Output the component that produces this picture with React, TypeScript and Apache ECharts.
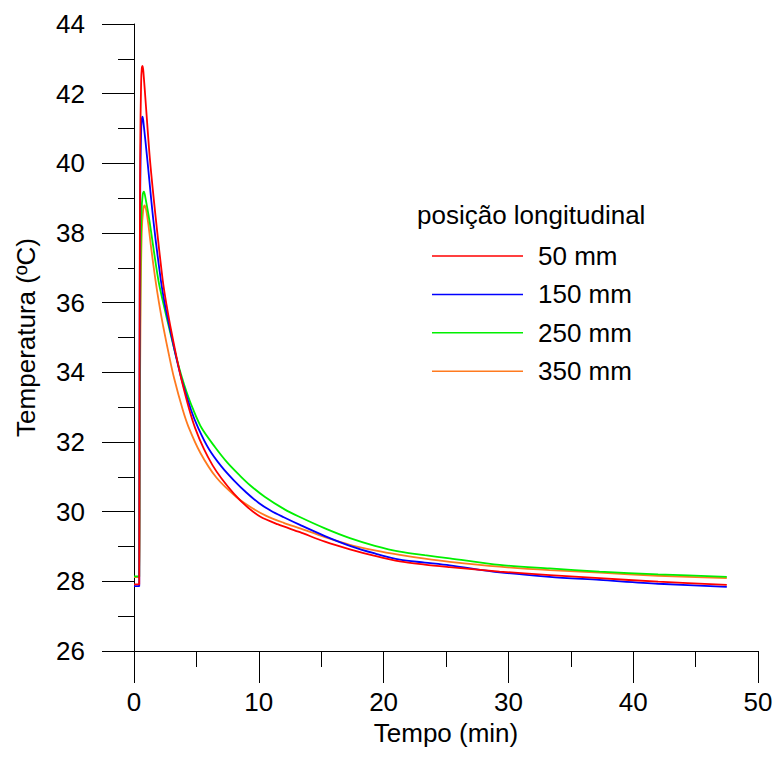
import { useEffect, useRef } from 'react';
import * as echarts from 'echarts';

const seriesNames = ['50 mm', '150 mm', '250 mm', '350 mm'];
const seriesColors = ['#ff0000', '#0000ff', '#00f000', '#ff7a1f'];
const legendTitle = 'posição longitudinal';
const xAxisName = 'Tempo (min)';
const yAxisName = 'Temperatura (ºC)';

const time50 = [0, 0.42, 0.44, 0.5, 0.57, 0.63, 0.69, 0.76, 0.96, 1.28, 1.76, 2.3, 2.6, 2.9, 3.4, 3.8, 4.4, 4.9, 5.6, 6.3, 7.0, 8.0, 9.0, 10.1, 11.5, 13.3, 15.3, 17.3, 19.3, 21.3, 23.3, 25.3, 29.3, 33.3, 37.3, 42, 47.5];
const temp50 = [27.91, 27.91, 34, 40.5, 42.3, 42.75, 42.8, 42.6, 41.63, 40.1, 38.37, 36.65, 35.95, 35.35, 34.45, 33.8, 32.97, 32.4, 31.8, 31.33, 30.96, 30.52, 30.16, 29.86, 29.64, 29.41, 29.14, 28.92, 28.73, 28.57, 28.48, 28.41, 28.28, 28.18, 28.09, 27.99, 27.9];

const time150 = [0, 0.42, 0.44, 0.5, 0.57, 0.63, 0.69, 0.78, 1.07, 1.55, 2.15, 2.5, 2.85, 3.4, 3.85, 4.57, 5.15, 6.0, 7.0, 8.0, 9.0, 10.0, 11.0, 12.0, 13.3, 15.3, 17.3, 19.3, 21.3, 23.3, 25.3, 29.3, 33.3, 37.3, 42, 47.5];
const temp150 = [27.86, 27.86, 33.5, 39.3, 40.9, 41.28, 41.34, 41.1, 40.1, 38.37, 36.65, 35.9, 35.3, 34.4, 33.75, 32.92, 32.4, 31.8, 31.3, 30.9, 30.55, 30.25, 30.02, 29.84, 29.62, 29.3, 29.02, 28.8, 28.62, 28.54, 28.46, 28.26, 28.13, 28.04, 27.93, 27.84];

const time250 = [0, 0.42, 0.45, 0.52, 0.6, 0.7, 0.8, 0.92, 1.23, 1.95, 2.5, 3.0, 3.4, 3.8, 4.2, 4.7, 5.42, 6.5, 7.5, 8.5, 9.3, 10.5, 12.0, 13.2, 15.3, 17.3, 19.3, 21.3, 23.3, 25.3, 29.3, 33.3, 37.3, 42, 47.5];
const temp250 = [28.14, 28.14, 32.5, 37, 38.6, 39.1, 39.19, 39.0, 38.37, 36.65, 35.75, 35.0, 34.42, 33.9, 33.45, 32.97, 32.4, 31.85, 31.4, 31.03, 30.76, 30.42, 30.08, 29.86, 29.52, 29.24, 29.02, 28.85, 28.75, 28.66, 28.47, 28.37, 28.28, 28.2, 28.13];

const time350 = [0, 0.42, 0.46, 0.53, 0.62, 0.73, 0.85, 0.98, 1.15, 1.4, 1.7, 2.0, 2.35, 2.83, 3.2, 3.9, 4.35, 5.3, 6.6, 8.2, 9.3, 10.6, 12, 13.3, 15.3, 17.3, 19.3, 21.3, 23.3, 25.3, 29.3, 33.3, 37.3, 42, 47.5];
const temp350 = [28.12, 28.12, 32, 36, 38.0, 38.65, 38.79, 38.65, 38.25, 37.5, 36.7, 36.0, 35.3, 34.45, 33.85, 32.93, 32.45, 31.7, 30.98, 30.42, 30.14, 29.88, 29.68, 29.52, 29.27, 29.05, 28.89, 28.76, 28.65, 28.56, 28.42, 28.32, 28.25, 28.16, 28.09];

const xTicks = { min: 0, max: 50, interval: 10 };
const yTicks = { min: 26, max: 44, interval: 2 };

const allTimes = [time50, time150, time250, time350];
const allTemps = [temp50, temp150, temp250, temp350];

const FONT = '"Liberation Sans", Arial, Helvetica, sans-serif';

export default function App() {
  const ref = useRef<HTMLDivElement>(null);
  useEffect(() => {
    if (!ref.current) return;
    const chart = echarts.init(ref.current, undefined, { renderer: 'svg' });
    const series = seriesNames.map((name, i) => ({
      name,
      type: 'line',
      data: allTimes[i].map((t, j) => [t, allTemps[i][j]]),
      symbol: 'none',
      smooth: 0.3,
      lineStyle: { color: seriesColors[i], width: 1.8 },
      itemStyle: { color: seriesColors[i] },
      z: 10 - i,
    }));
    chart.setOption({
      animation: false,
      backgroundColor: '#ffffff',
      textStyle: { fontFamily: FONT },
      grid: { left: 134, right: 20, top: 24, bottom: 112, containLabel: false },
      title: {
        text: legendTitle,
        left: 417,
        top: 202,
        padding: 0,
        textStyle: { fontFamily: FONT, fontSize: 26, fontWeight: 'normal', color: '#000' },
      },
      legend: {
        orient: 'vertical',
        left: 432,
        top: 243,
        padding: 0,
        itemWidth: 91,
        itemHeight: 26,
        itemGap: 12.4,
        icon: 'path://M0,12 L91,12 L91,13.5 L0,13.5 Z',
        data: seriesNames,
        textStyle: { fontFamily: FONT, fontSize: 26, color: '#000', padding: [0, 0, 0, 10] },
      },
      xAxis: {
        type: 'value',
        min: xTicks.min,
        max: xTicks.max,
        interval: xTicks.interval,
        name: xAxisName,
        nameLocation: 'middle',
        nameGap: 63,
        nameTextStyle: { fontFamily: FONT, fontSize: 26, color: '#000' },
        axisLine: { show: true, lineStyle: { color: '#000', width: 1 } },
        axisTick: { show: true, length: 32, lineStyle: { color: '#000', width: 1 } },
        minorTick: { show: true, splitNumber: 2, length: 16, lineStyle: { color: '#000', width: 1 } },
        splitLine: { show: false },
        minorSplitLine: { show: false },
        axisLabel: { fontFamily: FONT, fontSize: 26, color: '#000', margin: 38 },
      },
      yAxis: {
        type: 'value',
        min: yTicks.min,
        max: yTicks.max,
        interval: yTicks.interval,
        name: yAxisName,
        nameLocation: 'middle',
        nameRotate: 90,
        nameGap: 95,
        nameTextStyle: { fontFamily: FONT, fontSize: 26, color: '#000' },
        axisLine: { show: true, onZero: false, lineStyle: { color: '#000', width: 1 } },
        axisTick: { show: true, length: 32, lineStyle: { color: '#000', width: 1 } },
        minorTick: { show: true, splitNumber: 2, length: 16, lineStyle: { color: '#000', width: 1 } },
        splitLine: { show: false },
        minorSplitLine: { show: false },
        axisLabel: { fontFamily: FONT, fontSize: 26, color: '#000', margin: 49 },
      },
      series,
    });
    return () => chart.dispose();
  }, []);
  return (
    <div
      ref={ref}
      style={{ position: 'fixed', left: 0, top: 0, width: 778, height: 763, background: '#fff' }}
    />
  );
}
